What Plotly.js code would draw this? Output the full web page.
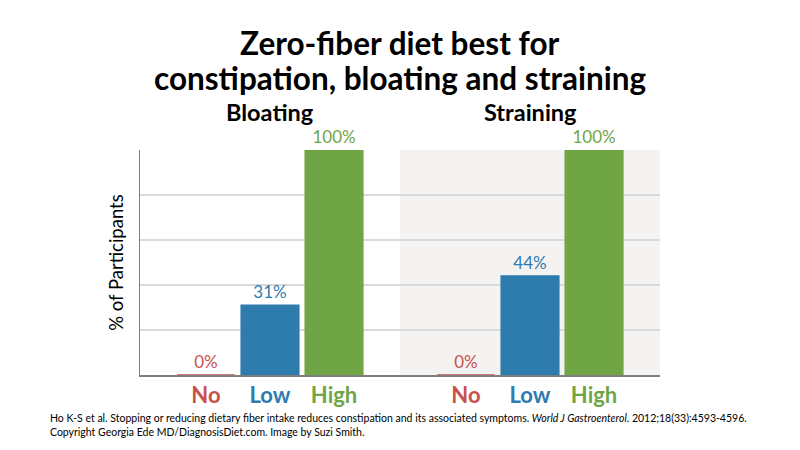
<!DOCTYPE html>
<html>
<head>
<meta charset="utf-8">
<script src="https://cdn.plot.ly/plotly-3.0.1.min.js"></script>
<style>html,body{margin:0;padding:0;background:#fff;}#chart{width:800px;height:450px;}</style>
</head>
<body>
<div id="chart"></div>
<script>
const categories = ['No', 'Low', 'High'];
const panels = ['Bloating', 'Straining'];
const titleLines = ['Zero-fiber diet best for', 'constipation, bloating and straining'];
const bloatingValues = [0, 31, 100];
const strainingValues = [0, 44, 100];
const valueLabels = ['0%', '31%', '100%'];
const valueLabels2 = ['0%', '44%', '100%'];
const barColors = ['#c9504d', '#2e7bad', '#70a545'];

const FONT = 'Lato, "Open Sans", sans-serif';
const idx = categories.map((c, i) => i);
const tickText = categories.map((c, i) => '<span style="color:' + barColors[i] + '"><b>' + c + '</b></span>');

// pixel (from top) -> paper y (plot area spans 150..375 px)
function py(p) { return 1 + (150 - p) / 225; }

function barTrace(vals, labels, xa) {
  return {
    type: 'bar',
    x: idx,
    y: vals,
    xaxis: xa,
    yaxis: 'y',
    width: 0.9,
    marker: {color: barColors, line: {color: barColors, width: 1.5}},
    text: labels,
    textposition: 'outside',
    cliponaxis: false,
    textfont: {family: FONT, size: 17, color: barColors},
    hoverinfo: 'skip'
  };
}

const xCommon = {
  range: [-1.03, 3.03],
  tickvals: idx,
  ticktext: tickText,
  tickfont: {family: FONT, size: 22},
  showgrid: false,
  zeroline: false,
  showline: true,
  linecolor: '#7f7f7f',
  linewidth: 1.5,
  ticks: '',
  fixedrange: true,
  anchor: 'y'
};

const layout = {
  width: 800,
  height: 450,
  margin: {l: 140, r: 140, t: 150, b: 75},
  paper_bgcolor: '#ffffff',
  plot_bgcolor: 'rgba(0,0,0,0)',
  showlegend: false,
  xaxis: Object.assign({}, xCommon, {domain: [0, 0.5]}),
  xaxis2: Object.assign({}, xCommon, {domain: [0.5, 1]}),
  yaxis: {
    range: [0, 100],
    dtick: 20,
    showticklabels: false,
    showgrid: true,
    gridcolor: '#d9d9d9',
    gridwidth: 1.3,
    zeroline: false,
    showline: true,
    linecolor: '#7f7f7f',
    linewidth: 1.5,
    ticks: '',
    title: {text: '% of Participants', font: {family: FONT, size: 18.5, color: '#000'}, standoff: 10},
    fixedrange: true
  },
  shapes: [{
    type: 'rect', xref: 'x2 domain', yref: 'y domain',
    x0: 0, x1: 1, y0: 0, y1: 1,
    fillcolor: '#f5f3f2', line: {width: 0}, layer: 'below'
  }],
  annotations: [
    {text: '<b>' + titleLines[0] + '</b>', xref: 'paper', yref: 'paper', x: 0.5, y: py(43), showarrow: false,
     font: {family: FONT, size: 31.5, color: '#000'}, xanchor: 'center', yanchor: 'middle', borderpad: 0},
    {text: '<b>' + titleLines[1] + '</b>', xref: 'paper', yref: 'paper', x: 0.5, y: py(78), showarrow: false,
     font: {family: FONT, size: 31.5, color: '#000'}, xanchor: 'center', yanchor: 'middle', borderpad: 0},
    {text: '<b>' + panels[0] + '</b>', xref: 'x domain', yref: 'paper', x: 0.5, y: py(112), showarrow: false,
     font: {family: FONT, size: 23.5, color: '#000'}, xanchor: 'center', yanchor: 'middle'},
    {text: '<b>' + panels[1] + '</b>', xref: 'x2 domain', yref: 'paper', x: 0.5, y: py(112), showarrow: false,
     font: {family: FONT, size: 23.5, color: '#000'}, xanchor: 'center', yanchor: 'middle'},
    {text: 'Ho K-S et al. Stopping or reducing dietary fiber intake reduces constipation and its associated symptoms. <i>World J Gastroenterol</i>. 2012;18(33):4593-4596.<br>Copyright Georgia Ede MD/DiagnosisDiet.com. Image by Suzi Smith.',
     xref: 'paper', yref: 'paper', x: -92/520, y: py(410), xanchor: 'left', yanchor: 'top', align: 'left', showarrow: false,
     font: {family: FONT, size: 10.5, color: '#000'}}
  ]
};

Plotly.newPlot('chart', [barTrace(bloatingValues, valueLabels, 'x'), barTrace(strainingValues, valueLabels2, 'x2')], layout, {staticPlot: true, displayModeBar: false});
</script>
</body>
</html>
